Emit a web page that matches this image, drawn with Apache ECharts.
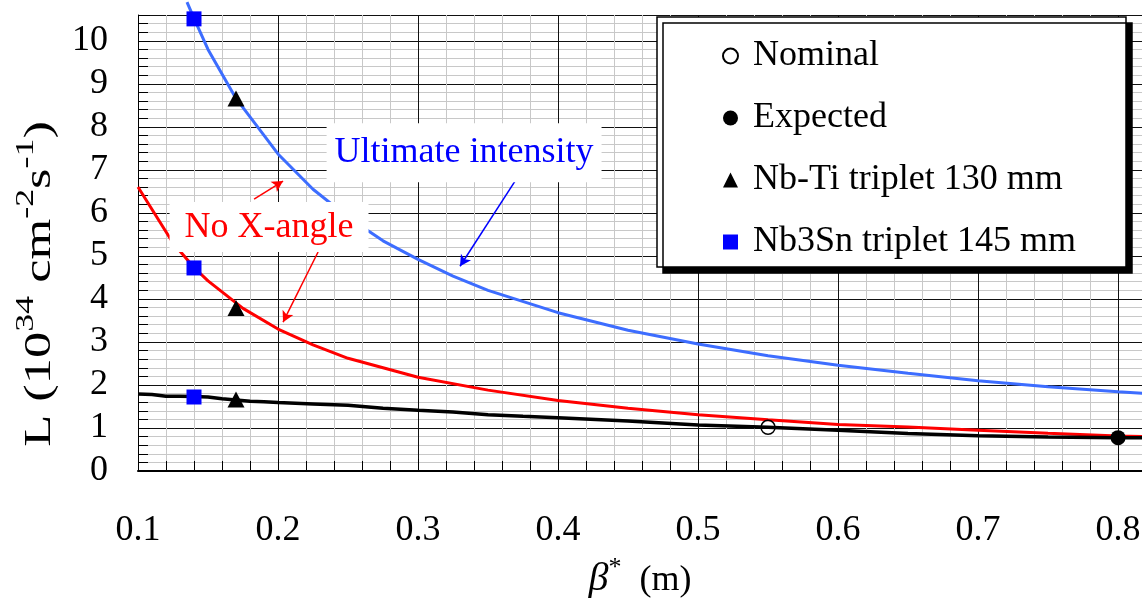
<!DOCTYPE html>
<html>
<head>
<meta charset="utf-8">
<script src="https://cdn.jsdelivr.net/npm/echarts@6/dist/echarts.min.js"></script>
<style>
html,body{margin:0;padding:0;background:#fff;}
#chart{width:1142px;height:598px;}
</style>
</head>
<body>
<div id="chart"></div>
<script>
// ---- data ----
const xTicks = [0.1, 0.2, 0.3, 0.4, 0.5, 0.6, 0.7, 0.8];
const yTicks = [0, 1, 2, 3, 4, 5, 6, 7, 8, 9, 10];

const betaUltimate = [0.135, 0.14, 0.15, 0.17, 0.2, 0.225, 0.25, 0.275, 0.3, 0.325, 0.35, 0.4, 0.45, 0.5, 0.55, 0.6, 0.65, 0.7, 0.75, 0.8, 0.82];
const lumUltimate  = [10.9, 10.52, 9.8, 8.66, 7.37, 6.55, 5.9, 5.35, 4.92, 4.53, 4.2, 3.68, 3.27, 2.95, 2.68, 2.46, 2.27, 2.1, 1.96, 1.84, 1.8];

const betaNoX = [0.1, 0.125, 0.14, 0.15, 0.175, 0.2, 0.225, 0.25, 0.275, 0.3, 0.35, 0.4, 0.45, 0.5, 0.55, 0.6, 0.65, 0.7, 0.75, 0.8, 0.82];
const lumNoX  = [6.6, 5.3, 4.73, 4.42, 3.78, 3.3, 2.93, 2.62, 2.4, 2.18, 1.88, 1.64, 1.46, 1.31, 1.19, 1.08, 1.02, 0.95, 0.875, 0.813, 0.8];

const betaNominal = [0.1, 0.11, 0.12, 0.13, 0.14, 0.15, 0.16, 0.17, 0.18, 0.19, 0.2, 0.225, 0.25, 0.275, 0.3, 0.325, 0.35, 0.375, 0.4, 0.45, 0.5, 0.55, 0.6, 0.65, 0.7, 0.75, 0.8, 0.82];
const lumNominal  = [1.79, 1.78, 1.74, 1.74, 1.73, 1.72, 1.68, 1.65, 1.62, 1.61, 1.59, 1.56, 1.53, 1.46, 1.41, 1.37, 1.31, 1.27, 1.24, 1.16, 1.07, 1.015, 0.95, 0.87, 0.82, 0.79, 0.775, 0.77];

const nominalPoint  = [0.55, 1.015];
const expectedPoint = [0.8, 0.775];
const nbtiBeta = 0.17;
const nbtiLum  = [8.66, 3.79, 1.66];
const nb3snBeta = 0.14;
const nb3snLum  = [10.51, 4.72, 1.72];

const legendNames = ['Nominal', 'Expected', 'Nb-Ti triplet 130 mm', 'Nb3Sn triplet 145 mm'];

// annotations (data coordinates)
const noteTexts = ['Ultimate intensity', 'No X-angle'];
const noteAt    = [[0.3329, 7.40], [0.1936, 5.67]];
const arrowFrom = [[0.1829, 6.32], [0.2286, 5.09], [0.3693, 6.74]];
const arrowTo   = [[0.2036, 6.74], [0.2036, 3.46], [0.330, 4.76]];

// ---- chart ----
const FONT = '"Liberation Serif", "Times New Roman", serif';
const pairs = (xs, ys) => xs.map((x, i) => [x, ys[i]]);
const arrowLines = (idx) => idx.map(i => [{coord: arrowFrom[i]}, {coord: arrowTo[i]}]);

const chart = echarts.init(document.getElementById('chart'), null, {renderer: 'canvas'});

const option = {
  animation: false,
  backgroundColor: '#fff',
  grid: {left: 138, right: 0, top: 15, bottom: 127, containLabel: false, outerBoundsMode: 'none'},
  xAxis: {
    type: 'value', min: 0.1, max: 0.8171, interval: 0.1,
    name: '{b|β}{s|*}{n|  (m)}', nameLocation: 'middle', nameGap: 84,
    nameTextStyle: {
      fontFamily: FONT, color: '#000',
      rich: {
        b: {fontFamily: FONT, fontStyle: 'italic', fontSize: 40, color: '#000', verticalAlign: 'bottom', lineHeight: 44},
        s: {fontFamily: FONT, fontSize: 26, color: '#000', verticalAlign: 'top', lineHeight: 26},
        n: {fontFamily: FONT, fontSize: 36, color: '#000', verticalAlign: 'bottom', lineHeight: 44}
      }
    },
    axisLine: {show: true, lineStyle: {color: '#000', width: 2}},
    axisTick: {show: true, inside: true, length: 12, lineStyle: {color: '#000', width: 1}},
    minorTick: {show: true, splitNumber: 5, length: 10, lineStyle: {color: '#000', width: 1}},
    axisLabel: {
      fontFamily: FONT, fontSize: 36, color: '#000', margin: 42, showMaxLabel: false,
      formatter: v => (Math.abs(v - Math.round(v * 10) / 10) < 1e-9 ? v.toFixed(1) : '')
    },
    splitLine: {show: true, lineStyle: {color: '#111', width: 1}},
    minorSplitLine: {show: true, lineStyle: {color: '#c8c8c8', width: 1}}
  },
  yAxis: {
    type: 'value', min: 0, max: 10.6, interval: 1,
    axisLine: {show: true, lineStyle: {color: '#000', width: 1}},
    axisTick: {show: true, inside: true, length: 12, lineStyle: {color: '#000', width: 1}},
    minorTick: {show: true, splitNumber: 5, length: 10, lineStyle: {color: '#000', width: 1}},
    axisLabel: {fontFamily: FONT, fontSize: 36, color: '#000', margin: 30, showMaxLabel: false,
      padding: [7, 0, 0, 0],
      formatter: v => (yTicks.indexOf(v) >= 0 ? String(v) : '')},
    splitLine: {show: true, lineStyle: {color: '#111', width: 1}},
    minorSplitLine: {show: true, lineStyle: {color: '#c8c8c8', width: 1}}
  },
  legend: {
    data: legendNames, orient: 'vertical', left: 657, top: 17,
    padding: [19, 50, 5, 65], itemGap: 22, itemWidth: 15, itemHeight: 15,
    backgroundColor: '#fff', borderColor: '#000', borderWidth: 1.5,
    shadowColor: '#000', shadowBlur: 0, shadowOffsetX: 6, shadowOffsetY: 6,
    selectedMode: false,
    textStyle: {fontFamily: FONT, fontSize: 36, color: '#000', lineHeight: 40, padding: [0, 0, 0, 10]}
  },
  series: [
    {
      name: 'Ultimate', type: 'line', data: pairs(betaUltimate, lumUltimate), showSymbol: false, clip: false,
      lineStyle: {color: '#3d6dff', width: 3}, itemStyle: {color: '#3d6dff'}, z: 2, silent: true,
      markLine: {silent: true, symbol: ['none', 'arrow'], symbolSize: [9, 11], label: {show: false},
        lineStyle: {color: '#0000ff', width: 1.5, type: 'solid'}, data: arrowLines([2])}
    },
    {
      name: 'NoX', type: 'line', data: pairs(betaNoX, lumNoX), showSymbol: false,
      lineStyle: {color: '#ff0000', width: 3}, itemStyle: {color: '#ff0000'}, z: 2, silent: true,
      markLine: {silent: true, symbol: ['none', 'arrow'], symbolSize: [9, 11], label: {show: false},
        lineStyle: {color: '#ff0000', width: 1.5, type: 'solid'}, data: arrowLines([0, 1])}
    },
    {
      name: 'NominalCurve', type: 'line', data: pairs(betaNominal, lumNominal), showSymbol: false,
      lineStyle: {color: '#000', width: 3.5}, itemStyle: {color: '#000'}, z: 2, silent: true
    },
    {
      name: 'Nominal', type: 'scatter', data: [nominalPoint], symbol: 'circle', symbolSize: 14,
      itemStyle: {color: 'rgba(255,255,255,0)', borderColor: '#000', borderWidth: 1.5, opacity: 1}, z: 5
    },
    {
      name: 'Expected', type: 'scatter', data: [expectedPoint], symbol: 'circle', symbolSize: 15,
      itemStyle: {color: '#000', opacity: 1}, z: 5
    },
    {
      name: 'Nb-Ti triplet 130 mm', type: 'scatter', data: nbtiLum.map(v => [nbtiBeta, v]),
      symbol: 'triangle', symbolSize: [17, 16], itemStyle: {color: '#000', opacity: 1}, z: 5
    },
    {
      name: 'Nb3Sn triplet 145 mm', type: 'scatter', data: nb3snLum.map(v => [nb3snBeta, v]),
      symbol: 'rect', symbolSize: 15, itemStyle: {color: '#0000ff', opacity: 1}, z: 5
    }
  ]
};
chart.setOption(option);

const noteColors = ['#0000ff', '#ff0000'];
const notePads = [[11, 8, 12, 8], [7, 15, 7, 15]];
const notes = noteTexts.map((t, i) => {
  const p = chart.convertToPixel({gridIndex: 0}, noteAt[i]);
  return {
    type: 'text', x: p[0], y: p[1], z: 100, silent: true,
    style: {
      text: t, font: '36px ' + FONT, fill: noteColors[i],
      align: 'center', verticalAlign: 'middle',
      backgroundColor: '#fff', padding: notePads[i]
    }
  };
});
// y-axis title (elongated along its baseline like the reference)
notes.push({
  type: 'text', x: 36, y: 284, rotation: Math.PI / 2, scaleX: 1.38, silent: true, z: 100,
  style: {
    text: '{n|L (10}{s|34}{n| cm}{s|-2}{n|s}{s|-1}{n|)}',
    align: 'center', verticalAlign: 'middle',
    rich: {
      n: {fontFamily: FONT, fontSize: 38, fill: '#000', verticalAlign: 'bottom', lineHeight: 46},
      s: {fontFamily: FONT, fontSize: 26, fill: '#000', verticalAlign: 'top', lineHeight: 26}
    }
  }
});
chart.setOption({graphic: notes});
</script>
</body>
</html>
